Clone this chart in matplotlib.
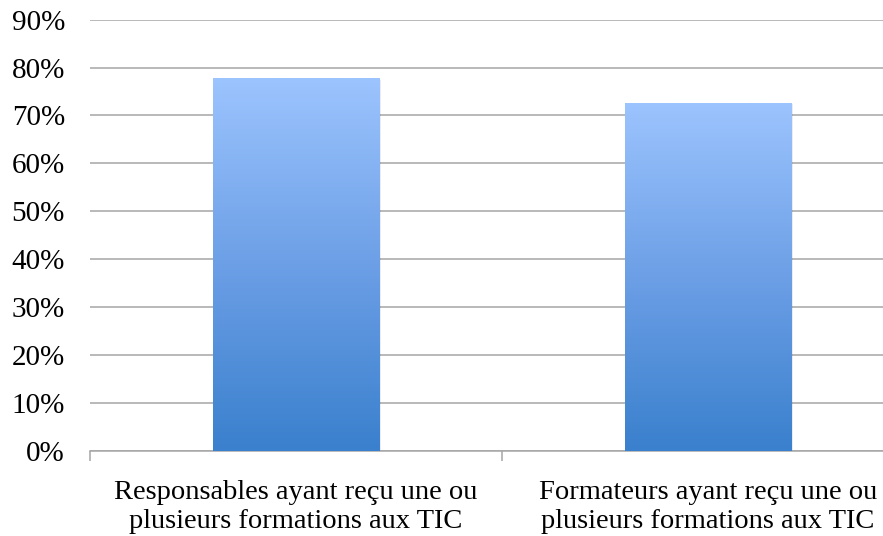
import numpy as np
import matplotlib

matplotlib.use("Agg")
import matplotlib.pyplot as plt
from matplotlib.colors import LinearSegmentedColormap
from matplotlib.ticker import FixedLocator, NullFormatter


categories = [
    "Responsables ayant reçu une ou\nplusieurs formations aux TIC",
    "Formateurs ayant reçu une ou\nplusieurs formations aux TIC",
]
values = [77.7, 72.6]
y_ticks = [0, 10, 20, 30, 40, 50, 60, 70, 80, 90]

plt.rcParams["font.family"] = ["Liberation Serif", "DejaVu Serif"]

fig = plt.figure(figsize=(8.83, 5.36), dpi=100)
# plot area runs past the right edge of the picture, as in the original
ax = fig.add_axes([90 / 883, 1 - 451 / 536, 824 / 883, (451 - 19.6) / 536])

cmap = LinearSegmentedColormap.from_list("bar", ["#3a80cd", "#6c9fe6", "#9cc4fe"])
grad = np.linspace(0, 1, 256).reshape(-1, 1)

x = np.arange(len(categories)) + 0.5
width = 0.403
for xi, v in zip(x, values):
    # soft shadow then gradient fill
    ax.bar(xi + 0.006, v, width, bottom=-0.3, color="#000000", alpha=0.08, zorder=2)
    ax.imshow(grad, cmap=cmap, origin="lower", aspect="auto",
              extent=(xi - width / 2, xi + width / 2, 0, v), zorder=3)

ax.set_xlim(0, len(categories))
ax.set_ylim(0, 90)

ax.set_yticks(y_ticks)
ax.set_yticklabels([f"{t}%" for t in y_ticks], fontsize=21)
ax.tick_params(axis="y", length=0, pad=18)
ax.yaxis.grid(True, color="#a6a6a6", linewidth=1.1, zorder=1)
ax.set_axisbelow(True)

ax.set_xticks(x)
ax.set_xticklabels(categories, fontsize=20.5, linespacing=1.2)
ax.tick_params(axis="x", length=0, pad=21)
ax.xaxis.set_minor_locator(FixedLocator(np.arange(len(categories) + 1)))
ax.xaxis.set_minor_formatter(NullFormatter())
ax.tick_params(axis="x", which="minor", length=7, color="#a6a6a6", width=1.1)

for side in ["left", "right", "top"]:
    ax.spines[side].set_visible(False)
ax.spines["bottom"].set_color("#a6a6a6")
ax.spines["bottom"].set_linewidth(1.1)

fig.savefig("out.png", dpi=100)
